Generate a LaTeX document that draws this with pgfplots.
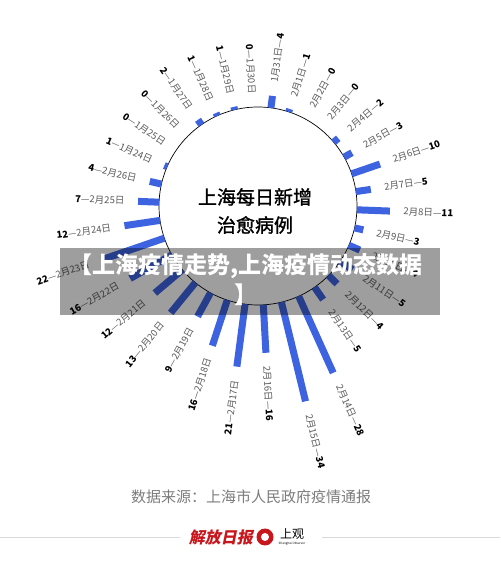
\documentclass[border=0pt]{standalone}
\usepackage{pgfplots}
\pgfplotsset{compat=1.18}
\usepackage{pgfplotstable}
\usepgfplotslibrary{polar}
\usepackage{fontspec}
\setmainfont{Noto Sans CJK SC}
\newfontfamily\titlefont[FakeBold=1.2]{Noto Sans CJK SC}
\definecolor{barblue}{RGB}{61,99,225}
\definecolor{dategray}{RGB}{90,90,90}
\definecolor{srcgray}{RGB}{125,125,125}
\definecolor{logored}{RGB}{200,22,29}

% daily cured cases, clockwise from the top
\pgfplotstableread{
date value
1月31日 4
2月1日 1
2月2日 0
2月3日 0
2月4日 2
2月5日 3
2月6日 10
2月7日 5
2月8日 11
2月9日 3
2月10日 4
2月11日 5
2月12日 4
2月13日 5
2月14日 28
2月15日 34
2月16日 16
2月17日 21
2月18日 16
2月19日 9
2月20日 13
2月21日 12
2月22日 16
2月23日 22
2月24日 12
2月25日 7
2月26日 4
1月24日 1
1月25日 0
1月26日 0
1月27日 2
1月28日 1
1月29日 1
1月30日 0
}\cured

\newcommand\labR[2]{{\color{dategray}#1—}{\bfseries\color{black}#2}}
\newcommand\labL[2]{{\bfseries\color{black}#2}{\color{dategray}—#1}}
\tikzset{lab/.style={font=\fontsize{9.5}{10}\selectfont, inner sep=0pt}}

\begin{document}
\begin{tikzpicture}[x=1pt,y=1pt]
\fill[white] (0,0) rectangle (500,564);
\path[use as bounding box] (0,0) rectangle (500,564);
\draw[black, line width=0.7pt, fill=white] (258,358) circle (99);
\begin{polaraxis}[
    at={(258pt,358pt)}, anchor=center,
    width=420pt, height=420pt, scale only axis,
    hide axis, clip=false,
    xmin=0, xmax=360, ymin=0, ymax=70,
    bar/.style={barblue, line width=7pt, forget plot, no markers},
]
\pgfplotsinvokeforeach{0,...,33}{
  \pgfplotstablegetelem{#1}{value}\of\cured \let\curval\pgfplotsretval
  \pgfplotstablegetelem{#1}{date}\of\cured \let\curdate\pgfplotsretval
  \pgfmathsetmacro\ang{82.5-#1*360/34}
  \pgfmathsetmacro\rend{33+\curval}
  \pgfmathsetmacro\rlab{37.5+\curval}
  \ifnum\curval>0
    \edef\temp{\noexpand\addplot[bar] coordinates {(\ang,33) (\ang,\rend)};}
    \temp
  \fi
  \ifnum#1<17
    \edef\temp{\noexpand\node[lab, rotate=\ang, anchor=west] at (axis cs:\ang,\rlab) {\noexpand\labR{\curdate}{\curval}};}
  \else
    \pgfmathsetmacro\rot{\ang+180}
    \edef\temp{\noexpand\node[lab, rotate=\rot, anchor=east] at (axis cs:\ang,\rlab) {\noexpand\labL{\curdate}{\curval}};}
  \fi
  \temp
}
\end{polaraxis}
\node[font=\titlefont\fontsize{19}{19}\selectfont] at (255,367) {上海每日新增};
\node[font=\titlefont\fontsize{19}{19}\selectfont] at (255,339) {治愈病例};
% overlay band
\fill[black, opacity=0.38] (60,249) rectangle (440,316);
\node[white, font=\fontsize{23}{30}\selectfont\bfseries, align=center] at (246,284) {【上海疫情走势,上海疫情动态数据\\】};
% footer
\node[srcgray, font=\fontsize{15}{15}\selectfont] at (251,67) {数据来源：上海市人民政府疫情通报};
\draw[gray!30, line width=1pt] (0,26) -- (180,26);
\draw[gray!30, line width=1pt] (322,26) -- (500,26);
\node[logored, font=\fontsize{16}{16}\selectfont\bfseries, xslant=0.2] at (222,27) {解放日报};
\fill[logored] (265,27) circle (8.5);
\fill[white] (265,27) circle (4);
\node[black, font=\fontsize{12}{12}\selectfont] at (292,30) {上观};
\node[black, font=\fontsize{3}{3}\selectfont] at (292,20) {Shanghai Observer};
\end{tikzpicture}
\end{document}
